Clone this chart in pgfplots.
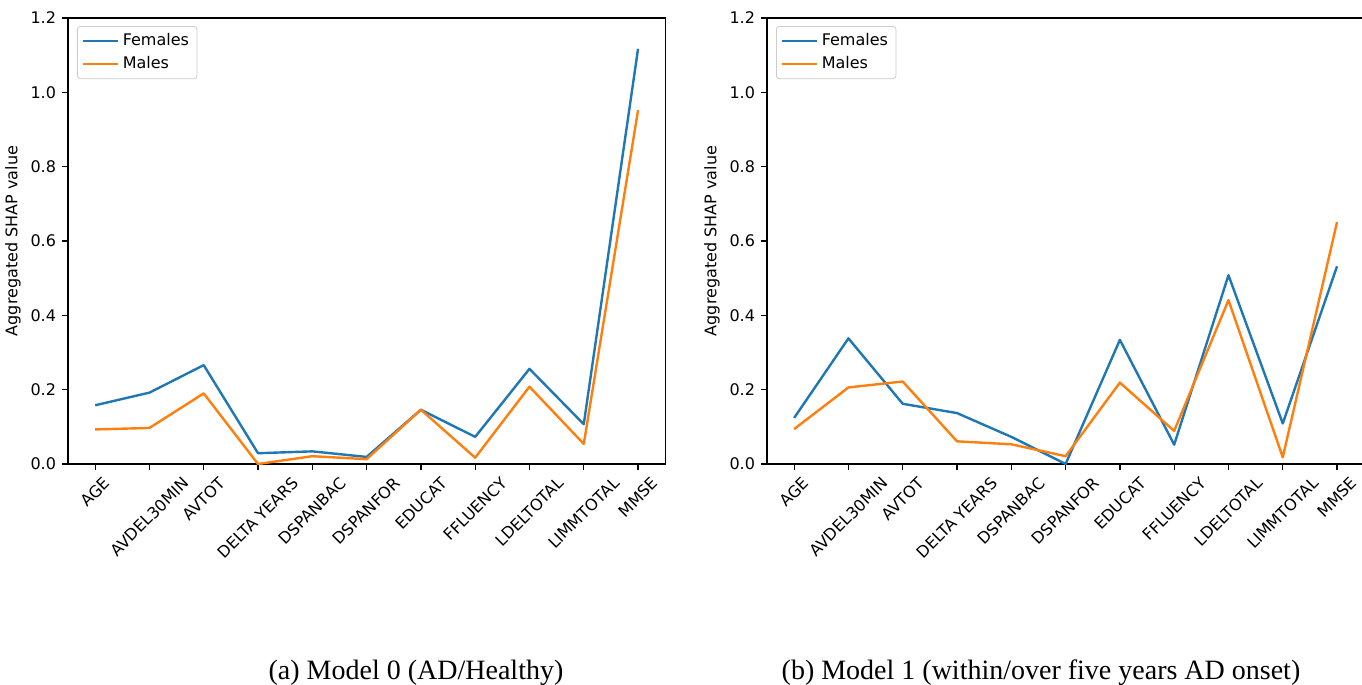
\documentclass[border=0pt]{standalone}
\usepackage{fontspec}
\setmainfont{DejaVu Sans}
\newfontfamily\capfont{Liberation Serif}
\usepackage{pgfplots}
\pgfplotsset{compat=1.18}
\definecolor{c0}{HTML}{1F77B4}
\definecolor{c1}{HTML}{FF7F0E}
\newcommand\rl[1]{\rotatebox{45}{#1}}
\newcommand\fs{\fontsize{8}{9.6}\selectfont}
\pgfplotsset{shap/.style={
  scale only axis, width=298.6pt, height=223pt,
  xmin=-0.5, xmax=10.5, ymin=0, ymax=1.2,
  xtick={0,1,2,3,4,5,6,7,8,9,10},
  xticklabels={\rl{AGE},\rl{AVDEL30MIN},\rl{AVTOT},\rl{DELTA YEARS},\rl{DSPANBAC},\rl{DSPANFOR},\rl{EDUCAT},\rl{FFLUENCY},\rl{LDELTOTAL},\rl{LIMMTOTAL},\rl{MMSE}},
  ytick={0,0.2,0.4,0.6,0.8,1.0,1.2},
  /pgf/number format/fixed, /pgf/number format/fixed zerofill,
  /pgf/number format/precision=1, /pgf/number format/assume math mode=true,
  tick label style={font=\fs},
  xticklabel style={anchor=north, inner sep=0pt, yshift=-3pt},
  yticklabel style={anchor=east, inner sep=0pt, xshift=-3pt},
  tick align=outside, xtick pos=lower, ytick pos=left,
  major tick length=2.8pt,
  major tick style={line width=0.64pt, black},
  axis line style={line width=0.64pt, black},
  ylabel={Aggregated SHAP value},
  ylabel style={font=\fs, at={(axis description cs:0,0.5)}, anchor=center, yshift=27.5pt},
  legend cell align=left,
  legend image code/.code={\draw[##1, line width=1.2pt] (0pt,0pt) -- (17.5pt,0pt);},
  legend style={at={(axis description cs:0,1)}, anchor=north west, xshift=4.5pt, yshift=-4pt,
    draw=black!20, rounded corners=1.5pt, font=\fs, inner xsep=2pt, inner ysep=1.5pt,
    row sep=0pt,
    /tikz/every even column/.append style={column sep=6pt}},
  every axis plot/.append style={line width=1.2pt, line join=round, mark=none},
}}
\begin{document}
\begin{tikzpicture}
\path[use as bounding box] (0pt,0pt) rectangle (681pt,-342.5pt);
\begin{axis}[shap, at={(34pt,-232pt)}, anchor=south west]
\addplot[c0] coordinates {(0,0.158) (1,0.192) (2,0.266) (3,0.029) (4,0.034) (5,0.019) (6,0.146) (7,0.073) (8,0.256) (9,0.107) (10,1.117)};
\addlegendentry{Females}
\addplot[c1] coordinates {(0,0.093) (1,0.097) (2,0.190) (3,0.0) (4,0.021) (5,0.013) (6,0.146) (7,0.017) (8,0.208) (9,0.054) (10,0.952)};
\addlegendentry{Males}
\end{axis}
\begin{axis}[shap, at={(383.5pt,-232pt)}, anchor=south west]
\addplot[c0] coordinates {(0,0.124) (1,0.338) (2,0.162) (3,0.137) (4,0.073) (5,0.0) (6,0.334) (7,0.052) (8,0.508) (9,0.109) (10,0.532)};
\addlegendentry{Females}
\addplot[c1] coordinates {(0,0.094) (1,0.206) (2,0.222) (3,0.061) (4,0.053) (5,0.021) (6,0.219) (7,0.089) (8,0.441) (9,0.018) (10,0.651)};
\addlegendentry{Males}
\end{axis}
\node[font=\capfont\fontsize{14}{16}\selectfont, anchor=base] at (208pt,-339.5pt) {(a) Model 0 (AD/Healthy)};
\node[font=\capfont\fontsize{14}{16}\selectfont, anchor=base] at (520.5pt,-339.5pt) {(b) Model 1 (within/over five years AD onset)};
\end{tikzpicture}
\end{document}
